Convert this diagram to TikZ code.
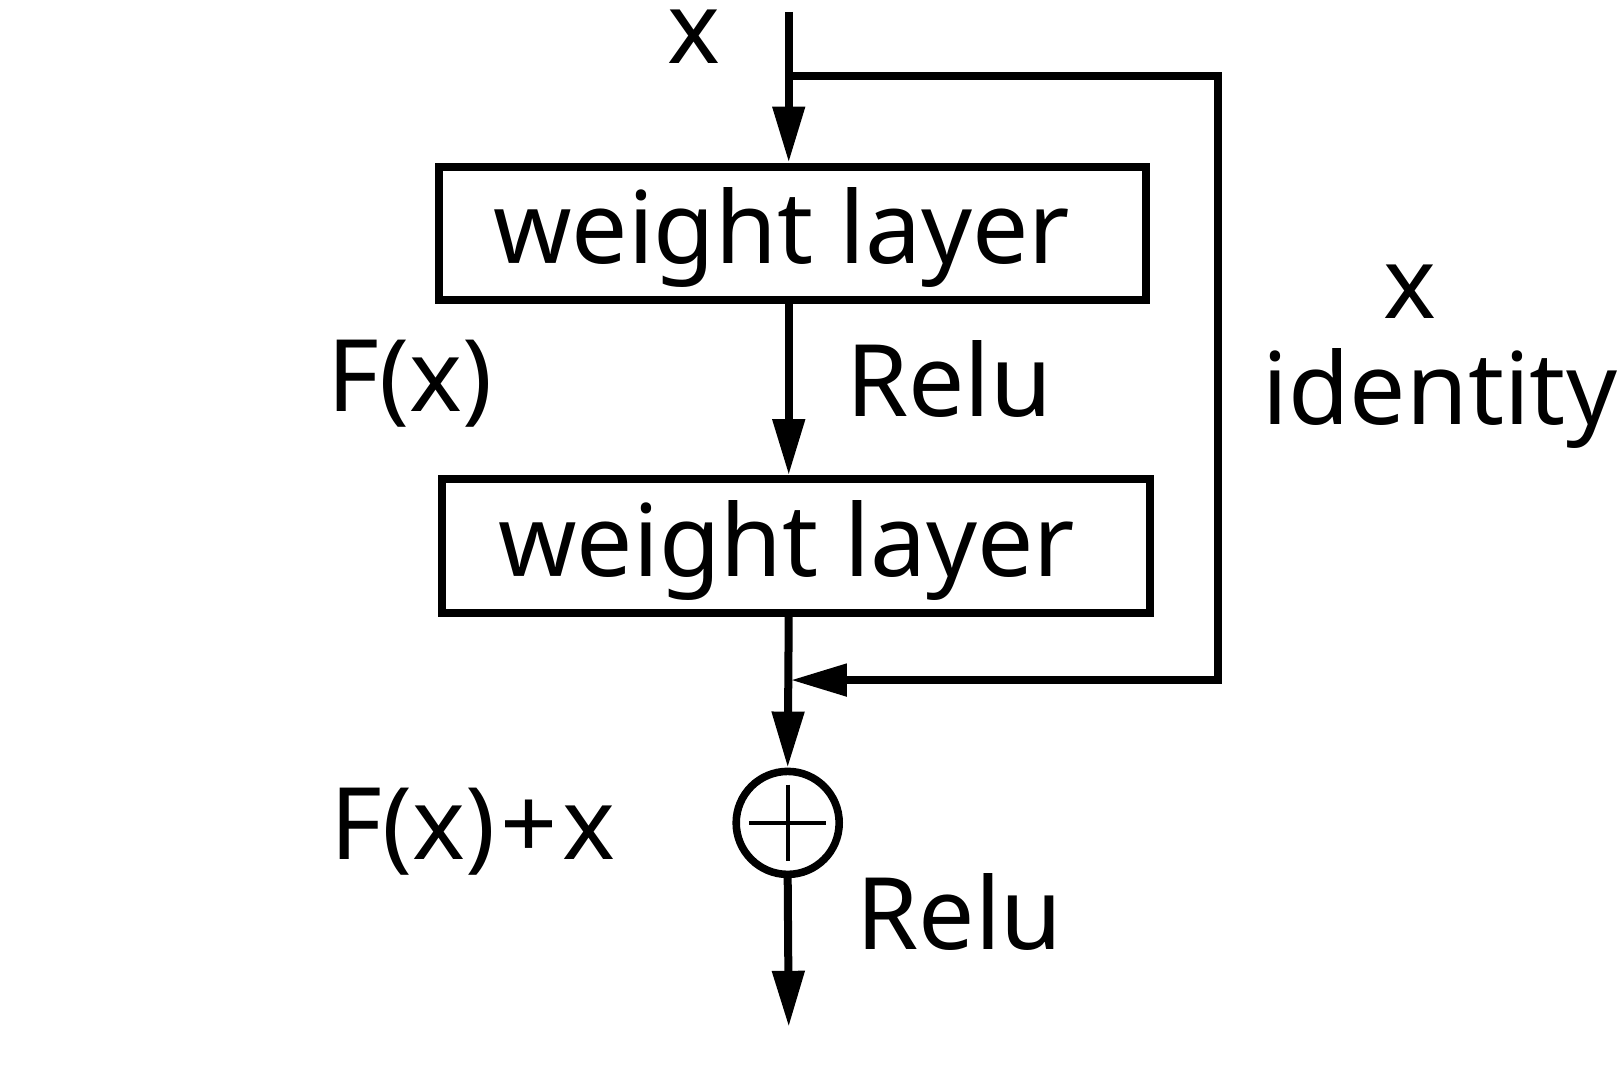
\documentclass[tikz,border=0pt]{standalone}
\usepackage{fontspec}
\setmainfont{Noto Sans}
\usetikzlibrary{arrows.meta,calc}
\begin{document}
\begin{tikzpicture}[x=0.5175pt,y=-0.5175pt,
  lw/.style={line width=4pt},
  arr/.style={lw,-{Triangle[length=28pt,width=15.5pt]}},
  layerbox/.style={draw,lw,rectangle,minimum width=353.6pt,minimum height=66.9pt,inner sep=0pt},
  sumnode/.style={draw,line width=3.8pt,circle,minimum size=51.5pt,inner sep=0pt},
  lbl/.style={font=\fontsize{50}{58}\selectfont,inner sep=0pt,anchor=base}]
\useasboundingbox (0,0) rectangle (1568,1039);
\coordinate (top) at (762,11.5);
\coordinate (split) at (762,73);
\coordinate (c1) at (1177,73);
\coordinate (c2) at (1177,657);
\coordinate (join) at (764,657);
\coordinate (bottom) at (762,992);
\node[layerbox] (box1) at (765.5,225.5) {};
\node[layerbox] (box2) at (769,527.5) {};
\node[sumnode] (plus) at (761,795) {};
\draw[line width=2pt] ($(plus.center)+(-37,0)$) -- ($(plus.center)+(37,0)$);
\draw[line width=2pt] ($(plus.center)+(0,-37)$) -- ($(plus.center)+(0,37)$);
\node[lbl] (t1) at (755,255) {weight layer};
\node[lbl] (t2) at (760,557) {weight layer};
\node[lbl,text height=27pt] (xin) at (670,61) {x};
\node[lbl] (fx) at (396,398) {F(x)};
\node[lbl] (relu1) at (917,402) {Relu};
\node[lbl] (xid) at (1362,308) {x};
\node[lbl] (ident) at (1391,410) {identity};
\node[lbl] (fxx) at (457,830) {F(x)\kern2.5pt+\kern2.5pt x};
\node[lbl] (relu2) at (927,917) {Relu};
\draw[arr] (top) -- (top |- box1.north);
\draw[arr,line join=miter] (split) -- (c1) -- (c2) -- (join);
\draw[arr] (top |- box1.south) -- (top |- box2.north);
\draw[arr] (top |- box2.south) -- (plus.north);
\draw[arr] (plus.south) -- (bottom);
\end{tikzpicture}
\end{document}
